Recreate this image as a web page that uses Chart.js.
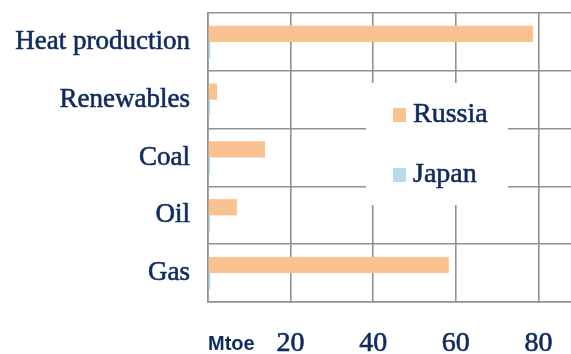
<!DOCTYPE html>
<html lang="en">
<head>
    <meta charset="UTF-8">
    <title>Russia vs Japan energy use</title>
    <script src="https://cdn.jsdelivr.net/npm/chart.js"></script>
    <style>
body {
  margin: 0;
  padding: 0;
  background-color: #fff;
  overflow: hidden;
}

#chartContainer {
  width: 640px;
  height: 354px;
}
    </style>
</head>
<body>
    <div id="chartContainer">
        <canvas id="myChart" width="640" height="354"></canvas>
    </div>

    <script>
        // Mtoe by source
        const categories = ['Heat production', 'Renewables', 'Coal', 'Oil', 'Gas'];
        const russiaValues = [78.7, 2.2, 13.8, 7.0, 58.3];
        const japanValues = [0.6, 0.5, 0.5, 0.5, 0.6];
        const seriesNames = ['Russia', 'Japan'];
        const xTickValues = [0, 20, 40, 60, 80, 100];

        const navy = '#0f2a5e';
        const gridGray = '#929292';
        const serif = 'Liberation Serif, Times New Roman, serif';

        // legend sits inside the plot on a white patch
        const insideLegend = {
            id: 'insideLegend',
            afterDatasetsDraw(chart) {
                const ctx = chart.ctx;
                const area = chart.chartArea;
                const x0 = area.left + 158;
                const y0 = area.top + 70;
                ctx.save();
                ctx.fillStyle = '#fff';
                ctx.fillRect(x0, y0, 142, 122);
                ctx.font = '28px ' + serif;
                ctx.textBaseline = 'middle';
                ctx.strokeStyle = navy;
                ctx.lineWidth = 0.6;
                chart.data.datasets.forEach(function(ds, i) {
                    const cy = y0 + 32 + i * 60;
                    ctx.fillStyle = ds.backgroundColor;
                    ctx.fillRect(x0 + 27, cy - 7, 13, 14);
                    ctx.fillStyle = navy;
                    ctx.fillText(ds.label, x0 + 47, cy);
                    ctx.strokeText(ds.label, x0 + 47, cy);
                });
                ctx.restore();
            },
            afterDraw(chart) {
                // unit label in place of the zero tick
                const ctx = chart.ctx;
                const xScale = chart.scales.x;
                ctx.save();
                ctx.font = 'bold 20px Liberation Sans, Arial, sans-serif';
                ctx.fillStyle = navy;
                ctx.textBaseline = 'alphabetic';
                ctx.fillText('Mtoe', xScale.getPixelForValue(0), 350);
                ctx.restore();
            }
        };

        const ctx = document.getElementById('myChart').getContext('2d');
        const myChart = new Chart(ctx, {
            type: 'bar',
            data: {
                labels: categories,
                datasets: [{
                    label: seriesNames[0],
                    data: russiaValues,
                    backgroundColor: '#fac291'
                }, {
                    label: seriesNames[1],
                    data: japanValues,
                    backgroundColor: '#b7dde8'
                }]
            },
            options: {
                indexAxis: 'y',
                responsive: false,
                animation: false,
                layout: { padding: { top: 13, right: 19, left: 0, bottom: 0 } },
                datasets: {
                    bar: { categoryPercentage: 0.56, barPercentage: 1.0 }
                },
                plugins: {
                    legend: { display: false },
                    tooltip: { enabled: false }
                },
                scales: {
                    x: {
                        min: 0,
                        max: 100,
                        afterBuildTicks: function(scale) {
                            scale.ticks = xTickValues.map(function(v) { return { value: v }; });
                        },
                        afterFit: function(scale) {
                            scale.height = 52;
                            scale.paddingLeft = 0;
                            scale.paddingRight = 0;
                        },
                        grid: { color: gridGray, lineWidth: 1.6, drawTicks: false },
                        border: { color: gridGray, width: 1.6 },
                        ticks: {
                            padding: 25,
                            color: navy,
                            textStrokeColor: navy,
                            textStrokeWidth: 0.6,
                            font: { family: serif, size: 28 },
                            maxRotation: 0,
                            callback: function(value) {
                                return value === 0 ? '' : value;
                            }
                        }
                    },
                    y: {
                        afterFit: function(scale) {
                            scale.width = 208;
                            scale.paddingTop = 0;
                            scale.paddingBottom = 0;
                        },
                        grid: { color: gridGray, lineWidth: 1.6, drawTicks: false },
                        border: { color: gridGray, width: 1.6 },
                        ticks: {
                            padding: 18,
                            color: navy,
                            textStrokeColor: navy,
                            textStrokeWidth: 0.6,
                            font: { family: serif, size: 27 }
                        }
                    }
                }
            },
            plugins: [insideLegend]
        });
    </script>
</body>
</html>
